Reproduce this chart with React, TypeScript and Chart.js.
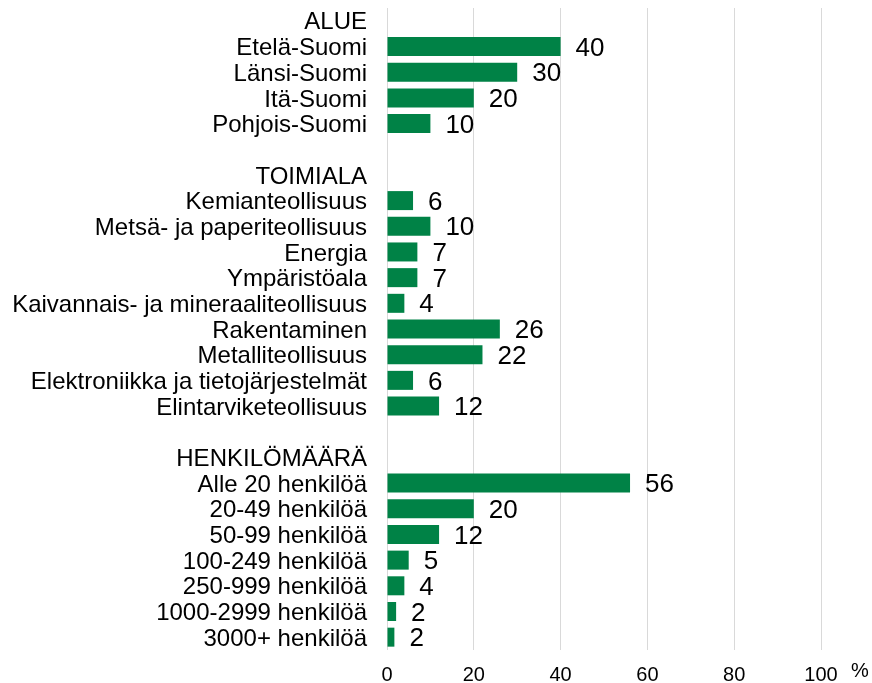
import React, { useEffect, useRef } from "react";
import { Chart, registerables } from "chart.js";

Chart.register(...registerables);

const regionHeading = "ALUE";
const regionLabels = ["Etelä-Suomi", "Länsi-Suomi", "Itä-Suomi", "Pohjois-Suomi"];
const regionValues = [40, 30, 20, 10];

const industryHeading = "TOIMIALA";
const industryLabels = [
  "Kemianteollisuus",
  "Metsä- ja paperiteollisuus",
  "Energia",
  "Ympäristöala",
  "Kaivannais- ja mineraaliteollisuus",
  "Rakentaminen",
  "Metalliteollisuus",
  "Elektroniikka ja tietojärjestelmät",
  "Elintarviketeollisuus",
];
const industryValues = [6, 10, 7, 7, 4, 26, 22, 6, 12];

const sizeHeading = "HENKILÖMÄÄRÄ";
const sizeLabels = [
  "Alle 20 henkilöä",
  "20-49 henkilöä",
  "50-99 henkilöä",
  "100-249 henkilöä",
  "250-999 henkilöä",
  "1000-2999 henkilöä",
  "3000+ henkilöä",
];
const sizeValues = [56, 20, 12, 5, 4, 2.1, 1.7];

const xTicks = [0, 20, 40, 60, 80, 100];
const unitLabel = "%";

const categories: string[] = [
  regionHeading, ...regionLabels, "",
  industryHeading, ...industryLabels, "",
  sizeHeading, ...sizeLabels,
];
const values: (number | null)[] = [
  null, ...regionValues, null,
  null, ...industryValues, null,
  null, ...sizeValues,
];

const FONT = "Arial, 'Liberation Sans', sans-serif";

const valueLabelPlugin = {
  id: "valueLabels",
  afterDatasetsDraw(chart: any) {
    const ctx = chart.ctx;
    const meta = chart.getDatasetMeta(0);
    ctx.save();
    ctx.font = `26px ${FONT}`;
    ctx.fillStyle = "#000";
    ctx.textAlign = "left";
    ctx.textBaseline = "middle";
    meta.data.forEach((el: any, i: number) => {
      const v = values[i];
      if (v === null || v === undefined) return;
      ctx.fillText(String(Math.round(v)), el.x + 15, el.y + 2);
    });
    ctx.font = `20px ${FONT}`;
    ctx.textBaseline = "top";
    ctx.fillText(unitLabel, chart.chartArea.right + 30, chart.chartArea.bottom + 11);
    ctx.restore();
  },
};

export default function App() {
  const ref = useRef<HTMLCanvasElement | null>(null);
  useEffect(() => {
    document.body.style.margin = "0";
    if (!ref.current) return;
    const chart = new Chart(ref.current, {
      type: "bar",
      data: {
        labels: categories,
        datasets: [
          {
            data: values as any,
            backgroundColor: "#008246",
            borderWidth: 0,
            categoryPercentage: 1,
            barPercentage: 0.74,
          },
        ],
      },
      options: {
        indexAxis: "y",
        responsive: false,
        animation: false,
        layout: { padding: { top: 8, right: 51, left: 0, bottom: 0 } },
        plugins: {
          legend: { display: false },
          tooltip: { enabled: false },
        },
        scales: {
          x: {
            min: 0,
            max: 100,
            afterBuildTicks(scale: any) {
              scale.ticks = xTicks.map((v) => ({ value: v }));
            },
            afterFit(scale: any) {
              scale.height = 33;
              scale.paddingLeft = 0;
              scale.paddingRight = 0;
              scale.paddingTop = 0;
              scale.paddingBottom = 0;
            },
            grid: { color: "#d9d9d9", lineWidth: 1, drawTicks: false },
            border: { display: false },
            ticks: {
              font: { size: 20, family: FONT },
              color: "#000",
              padding: 13,
            },
          },
          y: {
            afterFit(scale: any) {
              scale.width = 387;
              scale.paddingLeft = 0;
              scale.paddingRight = 0;
              scale.paddingTop = 0;
              scale.paddingBottom = 0;
            },
            grid: { display: false, drawTicks: false },
            border: { display: false },
            ticks: {
              autoSkip: false,
              font: { size: 24, family: FONT },
              color: "#000",
              padding: 20,
              labelOffset: 2,
            },
          },
        },
      },
      plugins: [valueLabelPlugin],
    });
    return () => chart.destroy();
  }, []);
  return (
    <div style={{ width: 872, height: 683, position: "relative", background: "#fff" }}>
      <canvas ref={ref} width={872} height={683} />
    </div>
  );
}
